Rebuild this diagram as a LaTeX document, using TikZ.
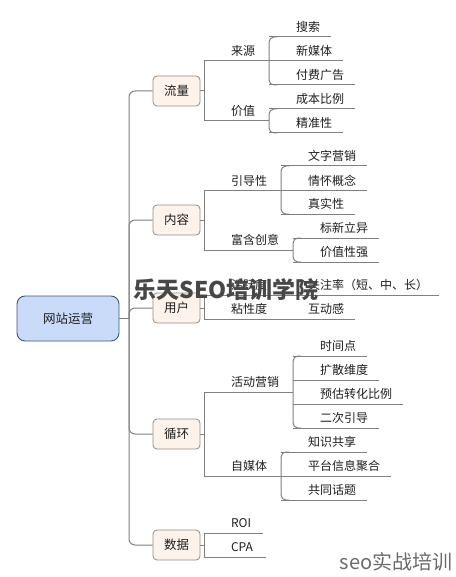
\documentclass[tikz,border=0pt]{standalone}
\usepackage{fontspec}
\setmainfont{Noto Sans CJK SC}
\definecolor{lnc}{HTML}{808080}
\definecolor{txt}{HTML}{1E1E1E}
\definecolor{boxd}{HTML}{958B84}
\definecolor{boxf}{HTML}{FDF3EA}
\definecolor{rootd}{HTML}{3A5682}
\definecolor{rootf}{HTML}{C9DBF9}
\definecolor{wmc}{HTML}{474747}
\definecolor{wmc2}{HTML}{6A6A6A}
\newcommand\lbl[5]{\node[lab] (#1) at (#2,#3) {\makebox[#4pt][l]{\hspace{27pt}#5}}; \draw[ln] (#1.south west) -- (#1.south east);}
\begin{document}
\begin{tikzpicture}[x=1pt,y=-1pt,
  ln/.style={draw=lnc, line width=1pt},
  lab/.style={anchor=south west, inner xsep=0pt, inner ysep=5.5pt, text height=10pt, text depth=0pt, outer sep=0pt, font=\fontsize{12}{14}\selectfont, text=txt},
  topic/.style={draw=boxd, fill=boxf, rounded corners=4pt, minimum width=47pt, minimum height=30pt, line width=0.8pt, inner sep=0pt, font=\fontsize{12.5}{14}\selectfont, text=txt},
  rootbox/.style={draw=rootd, fill=rootf, rounded corners=8pt, minimum width=102pt, minimum height=45pt, line width=0.9pt, inner sep=0pt, font=\fontsize{12.5}{14}\selectfont, text=txt},
  wm/.style={font=\bfseries\fontsize{23}{26}\selectfont, text=wmc, inner sep=0pt},
  wmb/.style={font=\fontsize{20}{22}\selectfont, text=wmc2, inner sep=0pt}
]
\useasboundingbox (0,0) rectangle (455,577);

% root and trunk
\node[rootbox] (root) at (68,318.5) {网站运营};
\coordinate (J) at (129,318.5);
\draw[ln] (root.east) -- (J);

\node[topic] (liuliang) at (176.5,91) {流量};
\node[topic] (neirong) at (176.5,220) {内容};
\node[topic] (yonghu) at (176.5,308) {用户};
\node[topic] (xunhuan) at (176.5,434) {循环};
\node[topic] (shuju) at (176.5,545) {数据};

\foreach \b in {liuliang,neirong,yonghu,xunhuan,shuju}
  \draw[ln, rounded corners=6pt] (J) |- (\b.west);

% level 2
\lbl{laiyuan}{204}{61}{65}{来源}
\lbl{jiazhi}{204}{121}{65}{价值}
\lbl{yindao}{204}{191}{77}{引导性}
\lbl{chuangyi}{204}{250}{89}{富含创意}
\lbl{huoyue}{204}{295}{77}{活跃度}
\lbl{nianxing}{204}{319}{77}{粘性度}
\lbl{huodong}{204}{392}{89}{活动营销}
\lbl{zimeiti}{204}{476}{77}{自媒体}
\lbl{roi}{204}{533}{59}{ROI}
\lbl{cpa}{204}{557}{62}{CPA}

\draw[ln] (liuliang.east) -- (liuliang.east -| laiyuan.south west);
\draw[ln] (laiyuan.south west) -- (jiazhi.south west);
\draw[ln] (neirong.east) -- (neirong.east -| yindao.south west);
\draw[ln] (yindao.south west) -- (chuangyi.south west);
\draw[ln] (yonghu.east) -- (yonghu.east -| huoyue.south west);
\draw[ln] (huoyue.south west) -- (nianxing.south west);
\draw[ln] (xunhuan.east) -- (xunhuan.east -| huodong.south west);
\draw[ln] (huodong.south west) -- (zimeiti.south west);
\draw[ln] (shuju.east) -- (shuju.east -| roi.south west);
\draw[ln] (roi.south west) -- (cpa.south west);

% level 3
\lbl{sousuo}{269}{37}{62}{搜索}
\lbl{xinmeiti}{269}{61}{74}{新媒体}
\lbl{fufei}{269}{85}{86}{付费广告}
\lbl{chengben}{269}{109}{86}{成本比例}
\lbl{jingzhun}{269}{133}{74}{精准性}
\lbl{wenzi}{281}{166}{86}{文字营销}
\lbl{qinghuai}{281}{191}{86}{情怀概念}
\lbl{zhenshi}{281}{214}{74}{真实性}
\lbl{biaoxin}{293}{238}{86}{标新立异}
\lbl{jiazhixing}{293}{262}{86}{价值性强}
\lbl{guanzhu}{281}{295}{158}{关注率（短、中、长）}
\lbl{hudong}{281}{319}{74}{互动感}
\lbl{shijian}{293}{356}{74}{时间点}
\lbl{kuosan}{293}{380}{86}{扩散维度}
\lbl{yugu}{293}{404}{110}{预估转化比例}
\lbl{erci}{293}{428}{86}{二次引导}
\lbl{zhishi}{281}{452}{86}{知识共享}
\lbl{pingtai}{281}{476}{110}{平台信息聚合}
\lbl{gongtong}{281}{500}{86}{共同话题}

\foreach \a/\z in {sousuo/fufei, chengben/jingzhun, wenzi/zhenshi, biaoxin/jiazhixing, shijian/erci, zhishi/gongtong}
  \draw[ln, rounded corners=5pt] ([xshift=8pt]\a.south west) -- (\a.south west) -- (\z.south west) -- ([xshift=8pt]\z.south west);

% watermarks
\node[wm] (wm1) at (226,290) {乐天SEO培训学院};
\node[wmb] (wm2) at (396,562) {seo实战培训};
\end{tikzpicture}
\end{document}
